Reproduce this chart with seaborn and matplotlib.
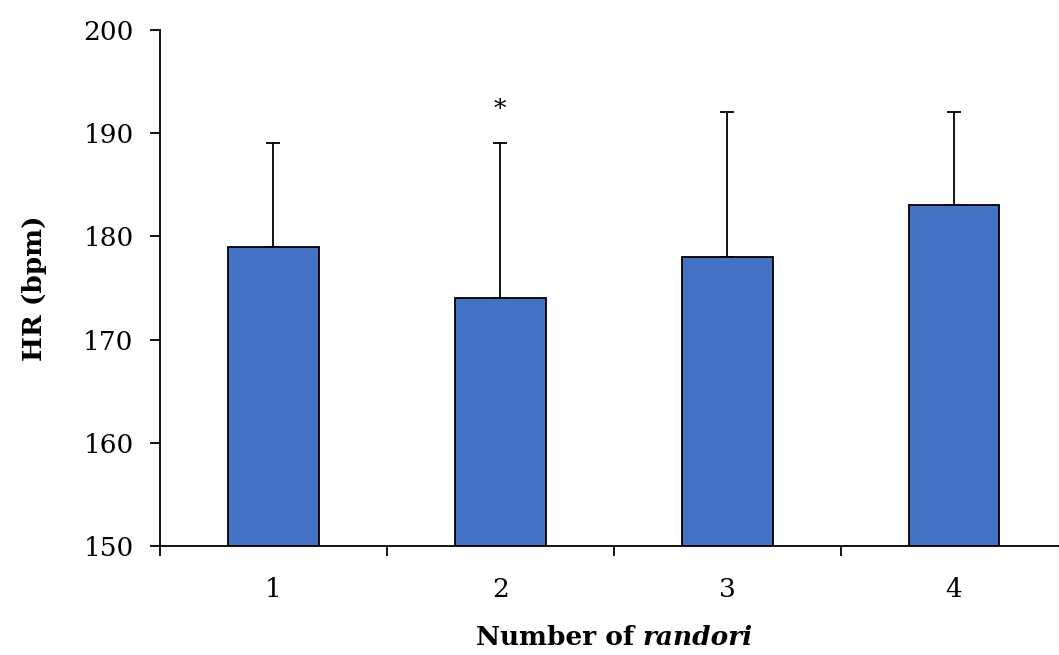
import matplotlib
matplotlib.use("Agg")
import matplotlib.pyplot as plt
import pandas as pd
import seaborn as sns

# data
randori = ["1", "2", "3", "4"]
hr_mean = [179, 174, 178, 183]
hr_sd = [10, 15, 14, 9]
star_labels = ["", "*", "", ""]

df = pd.DataFrame({"randori": randori, "hr": hr_mean})

sns.set_style("ticks")
plt.rcParams["font.family"] = ["DejaVu Serif"]
plt.rcParams["text.color"] = "black"
plt.rcParams["xtick.color"] = "black"
plt.rcParams["ytick.color"] = "black"
plt.rcParams["axes.labelcolor"] = "black"

fig = plt.figure(figsize=(10.59, 6.55), dpi=100)
ax = fig.add_axes([0.151, 0.1664, 0.857, 0.788])

sns.barplot(data=df, x="randori", y="hr", color="#4472C4", width=0.4,
            edgecolor="black", linewidth=1.3, saturation=1, ax=ax, zorder=2)

xpos = range(len(randori))
ax.errorbar(xpos, hr_mean, yerr=[[0] * len(hr_sd), hr_sd], fmt="none",
            ecolor="black", elinewidth=1.3, capsize=5, capthick=1.3, zorder=1)

for i, s in enumerate(star_labels):
    if s:
        ax.text(i, hr_mean[i] + hr_sd[i] + 2.2, s, ha="center", va="bottom",
                fontsize=18)

ax.set_ylim(150, 200)
ax.set_xlim(-0.5, 3.5)
ax.set_yticks(range(150, 201, 10))
ax.tick_params(axis="y", labelsize=19, length=7, width=1.3, direction="out", pad=12)
ax.tick_params(axis="x", which="major", labelsize=19, length=0, pad=22)
ax.set_xticks([i - 0.5 for i in range(len(randori) + 1)], minor=True)
ax.tick_params(axis="x", which="minor", length=7, width=1.3, direction="out")

for sp in ["left", "bottom"]:
    ax.spines[sp].set_linewidth(1.3)
    ax.spines[sp].set_color("black")
sns.despine(ax=ax)

ax.set_ylabel("HR (bpm)", fontsize=19, fontweight="bold", labelpad=26)
ax.set_xlabel("")

# x label: bold "Number of" + bold italic "randori", centred under the axis
t1 = fig.text(0, 0.008, "Number of ", fontsize=19, fontweight="bold",
              ha="left", va="bottom")
t2 = fig.text(0, 0.008, "randori", fontsize=19, fontweight="bold",
              style="italic", ha="left", va="bottom")
fig.canvas.draw()
r = fig.canvas.get_renderer()
w1 = t1.get_window_extent(r).width / fig.bbox.width
w2 = t2.get_window_extent(r).width / fig.bbox.width
x0 = 0.58 - (w1 + w2) / 2
t1.set_x(x0)
t2.set_x(x0 + w1)

fig.savefig("out.png", dpi=100)
